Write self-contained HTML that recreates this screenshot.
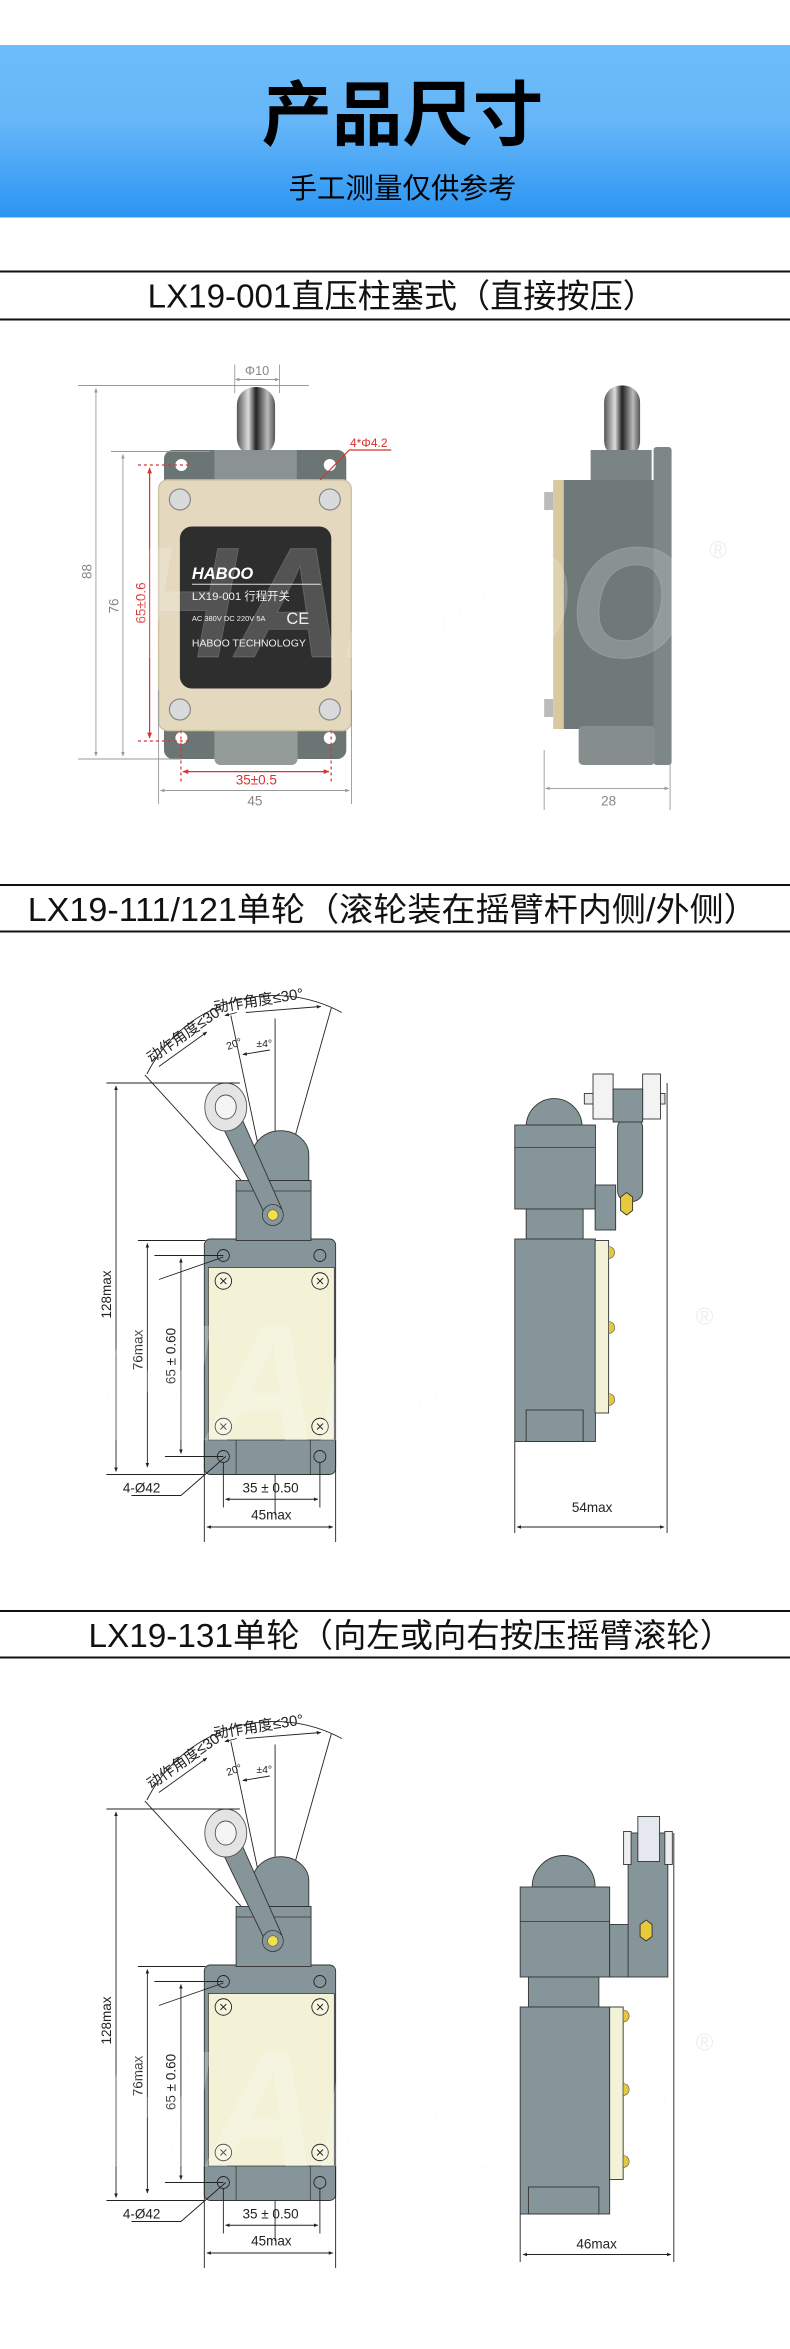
<!DOCTYPE html>
<html><head><meta charset="utf-8">
<style>
html,body{margin:0;padding:0;background:#fff;}
svg{display:block;}
text{font-family:"Liberation Sans","Noto Sans CJK SC",sans-serif;}
</style></head>
<body>
<svg width="790" height="2349" viewBox="0 0 527 1566" preserveAspectRatio="none" xmlns="http://www.w3.org/2000/svg">
<defs>
<linearGradient id="hg" x1="0" y1="0" x2="0" y2="1">
<stop offset="0" stop-color="#6cbdfa"/><stop offset="0.45" stop-color="#66b6f8"/><stop offset="1" stop-color="#2a95f2"/>
</linearGradient>
<marker id="ag" viewBox="0 0 10 10" refX="9" refY="5" markerWidth="5" markerHeight="5" orient="auto-start-reverse"><path d="M0,1 L10,5 L0,9 z" fill="#999"/></marker>
<marker id="ak" viewBox="0 0 10 10" refX="9" refY="5" markerWidth="5" markerHeight="5" orient="auto-start-reverse"><path d="M0,1 L10,5 L0,9 z" fill="#222"/></marker>
<marker id="ar" viewBox="0 0 10 10" refX="9" refY="5" markerWidth="5" markerHeight="5" orient="auto-start-reverse"><path d="M0,1 L10,5 L0,9 z" fill="#d9332e"/></marker>
<linearGradient id="pl" x1="0" y1="0" x2="1" y2="0">
<stop offset="0" stop-color="#555"/><stop offset="0.3" stop-color="#ddd"/><stop offset="0.5" stop-color="#222"/><stop offset="0.8" stop-color="#bbb"/><stop offset="1" stop-color="#555"/>
</linearGradient>
</defs>

<!-- header -->
<rect x="0" y="30" width="527" height="115" fill="url(#hg)"/>
<text x="268.5" y="93" font-size="47" font-weight="bold" text-anchor="middle" fill="#000">产品尺寸</text>
<text x="268.5" y="132" font-size="19" text-anchor="middle" fill="#000">手工测量仅供参考</text>

<!-- section titles -->
<g stroke="#111" stroke-width="1.3">
<line x1="0" y1="181" x2="527" y2="181"/><line x1="0" y1="213" x2="527" y2="213"/>
<line x1="0" y1="590" x2="527" y2="590"/><line x1="0" y1="621" x2="527" y2="621"/>
<line x1="0" y1="1074" x2="527" y2="1074"/><line x1="0" y1="1105" x2="527" y2="1105"/>
</g>
<text x="268" y="205" font-size="22" text-anchor="middle" fill="#111" textLength="339" lengthAdjust="spacingAndGlyphs">LX19-001直压柱塞式（直接按压）</text>
<text x="262" y="614" font-size="22" text-anchor="middle" fill="#111" textLength="487" lengthAdjust="spacingAndGlyphs">LX19-111/121单轮（滚轮装在摇臂杆内侧/外侧）</text>
<text x="274" y="1098" font-size="22" text-anchor="middle" fill="#111" textLength="430" lengthAdjust="spacingAndGlyphs">LX19-131单轮（向左或向右按压摇臂滚轮）</text>

<!-- ===== SECTION 1 ===== -->
<rect x="158" y="258" width="25.5" height="46" rx="12" fill="url(#pl)"/>
<rect x="109.4" y="300" width="121.6" height="206" rx="6" fill="#6b7674"/>
<rect x="143" y="300" width="55" height="22" fill="#8a9391"/>
<rect x="143" y="484" width="55.5" height="26" rx="4" fill="#949c9a"/>
<rect x="105.8" y="320" width="128.5" height="167" rx="6" fill="#e4d9bf" stroke="#cfc3a6"/>
<rect x="120" y="351" width="101" height="108" rx="8" fill="#2e2e2e"/>
<g fill="#d8dadb" stroke="#888" stroke-width="0.8">
<circle cx="120" cy="333" r="7"/><circle cx="220" cy="333" r="7"/><circle cx="120" cy="473" r="7"/><circle cx="220" cy="473" r="7"/>
</g>
<g fill="#fff"><circle cx="121" cy="310" r="4"/><circle cx="220" cy="310" r="4"/><circle cx="121" cy="492" r="4"/><circle cx="220" cy="492" r="4"/></g>
<text x="128" y="386" font-size="11" font-style="italic" font-weight="bold" fill="#fff">HABOO</text>
<line x1="128" y1="389.5" x2="214" y2="389.5" stroke="#ddd" stroke-width="0.7"/>
<text x="128" y="400" font-size="7.6" fill="#eee">LX19-001  行程开关</text>
<text x="128" y="414" font-size="5" fill="#eee">AC 380V DC 220V 5A</text>
<text x="191" y="416" font-size="11" fill="#eee">CE</text>
<text x="128" y="431" font-size="7" fill="#eee">HABOO TECHNOLOGY</text>
<g stroke="#999" stroke-width="0.6" fill="none">
<line x1="52" y1="257" x2="206" y2="257"/><line x1="52" y1="506" x2="121" y2="506"/>
<line x1="64" y1="259" x2="64" y2="504" marker-start="url(#ag)" marker-end="url(#ag)"/>
<line x1="74" y1="301" x2="140" y2="301"/>
<line x1="82" y1="303" x2="82" y2="504" marker-start="url(#ag)" marker-end="url(#ag)"/>
<line x1="156.6" y1="243" x2="156.6" y2="262"/><line x1="186.5" y1="243" x2="186.5" y2="262"/>
<line x1="157" y1="253" x2="186" y2="253" marker-start="url(#ag)" marker-end="url(#ag)"/>
<line x1="105.8" y1="460" x2="105.8" y2="536"/><line x1="234.5" y1="460" x2="234.5" y2="536"/>
<line x1="107" y1="527" x2="233" y2="527" marker-start="url(#ag)" marker-end="url(#ag)"/>
<line x1="363" y1="500" x2="363" y2="540"/><line x1="447" y1="300" x2="447" y2="540"/>
<line x1="364" y1="525.6" x2="446" y2="525.6" marker-start="url(#ag)" marker-end="url(#ag)"/>
</g>
<text transform="translate(61,381) rotate(-90)" font-size="9" fill="#888" text-anchor="middle">88</text>
<text transform="translate(79,404) rotate(-90)" font-size="9" fill="#888" text-anchor="middle">76</text>
<text x="171.5" y="250" font-size="8.5" fill="#888" text-anchor="middle">Φ10</text>
<text x="170" y="537" font-size="9" fill="#888" text-anchor="middle">45</text>
<text x="406" y="537" font-size="9" fill="#888" text-anchor="middle">28</text>
<g stroke="#d9332e" stroke-width="0.8" fill="none">
<line x1="92" y1="310" x2="128" y2="310" stroke-dasharray="2,2"/><line x1="92" y1="494" x2="128" y2="494" stroke-dasharray="2,2"/>
<line x1="99.8" y1="312" x2="99.8" y2="492" marker-start="url(#ar)" marker-end="url(#ar)"/>
<line x1="120.7" y1="487" x2="120.7" y2="522" stroke-dasharray="2,2"/><line x1="220.9" y1="487" x2="220.9" y2="522" stroke-dasharray="2,2"/>
<line x1="122" y1="514.4" x2="219.5" y2="514.4" marker-start="url(#ar)" marker-end="url(#ar)"/>
<polyline points="261,300 233,300 213.5,320"/>
</g>
<text transform="translate(97,402) rotate(-90)" font-size="9" fill="#d9332e" text-anchor="middle">65±0.6</text>
<text x="171" y="523" font-size="9" fill="#d9332e" text-anchor="middle">35±0.5</text>
<text x="246" y="298" font-size="8" fill="#d9332e" text-anchor="middle">4*Φ4.2</text>
<rect x="403" y="257" width="24" height="48" rx="11" fill="url(#pl)"/>
<rect x="394" y="300" width="40.7" height="22" fill="#7a8482"/>
<rect x="376" y="320" width="62" height="166" fill="#6f7a78"/>
<rect x="436" y="298" width="12" height="212" rx="2" fill="#7d8785"/>
<rect x="386" y="484" width="51" height="26" rx="3" fill="#858e8c"/>
<rect x="369" y="320" width="7" height="166" fill="#d8c9a3"/>
<rect x="363" y="328" width="6" height="12" fill="#bbb"/><rect x="363" y="466" width="6" height="12" fill="#bbb"/>
<text x="85" y="438" font-size="105" font-style="italic" font-weight="bold" fill="#fff" fill-opacity="0.18" stroke="#eee" stroke-opacity="0.2" stroke-width="0.6" textLength="373" lengthAdjust="spacingAndGlyphs">HABOO</text>
<text x="479" y="372" font-size="16" fill="#ddd" fill-opacity="0.5" text-anchor="middle">®</text>

<!-- ===== SECTION 2 & 3 FRONT (shared) ===== -->
<g id="front">
<g stroke="#222" stroke-width="0.6" fill="none">
<path d="M98,716 A95,95 0 0 1 228,675" />
<line x1="182" y1="810" x2="96.6" y2="716.6"/>
<line x1="183.5" y1="679" x2="183.5" y2="1010"/>
<line x1="182" y1="810" x2="154" y2="677"/>
<line x1="182" y1="810" x2="221" y2="672"/>
<path d="M162,703 L180,700" marker-start="url(#ak)"/>
<line x1="106" y1="711" x2="138" y2="688" marker-end="url(#ak)"/>
<line x1="150" y1="677" x2="158" y2="675" marker-start="url(#ak)"/>
<line x1="164" y1="675" x2="214" y2="671" marker-end="url(#ak)"/>
</g>
<text transform="translate(101,709) rotate(-35)" font-size="10" fill="#222">动作角度≤30°</text>
<text transform="translate(143,675) rotate(-9)" font-size="10" fill="#222">动作角度≤30°</text>
<text transform="translate(152,700) rotate(-20)" font-size="7" fill="#222">20°</text>
<text x="171" y="698" font-size="7" fill="#222">±4°</text>
<rect x="136.3" y="826" width="87.6" height="157" rx="4" fill="#86959a" stroke="#333" stroke-width="0.6"/>
<rect x="157.5" y="787" width="50" height="40" fill="#86959a" stroke="#333" stroke-width="0.6"/>
<path d="M168.5,787 L168.5,770 A18.5,16 0 0 1 206,770 L206,787 z" fill="#86959a" stroke="#333" stroke-width="0.6"/>
<line x1="157.5" y1="794" x2="207.5" y2="794" stroke="#333" stroke-width="0.5"/>
<rect x="139" y="845" width="84" height="115" fill="#f3f2d6" stroke="#333" stroke-width="0.5"/>
<line x1="157.5" y1="960" x2="157.5" y2="983" stroke="#333" stroke-width="0.5"/>
<line x1="207" y1="960" x2="207" y2="983" stroke="#333" stroke-width="0.5"/>
<path d="M145,744 L157,736 L188,806 L178,812 z" fill="#86959a" stroke="#333" stroke-width="0.6"/>
<ellipse cx="150.6" cy="738" rx="14" ry="16" fill="#e4e4e4" stroke="#555" stroke-width="0.6"/>
<ellipse cx="150.6" cy="738" rx="7" ry="8" fill="#f5f5f5" stroke="#555" stroke-width="0.6"/>
<circle cx="182" cy="810" r="7" fill="#86959a" stroke="#333" stroke-width="0.5"/>
<circle cx="182" cy="810" r="3.5" fill="#f2e04a" stroke="#555" stroke-width="0.4"/>
<g fill="none" stroke="#222" stroke-width="0.6">
<circle cx="149" cy="837" r="4"/><circle cx="213.4" cy="837" r="4"/><circle cx="149" cy="971" r="4"/><circle cx="213.4" cy="971" r="4"/>
<circle cx="149" cy="854" r="5.5" fill="#f7f6e0"/><circle cx="213.5" cy="854" r="5.5" fill="#f7f6e0"/>
<circle cx="149" cy="951" r="5.5" fill="#f7f6e0"/><circle cx="213.5" cy="951" r="5.5" fill="#f7f6e0"/>
<path d="M147,852 l4,4 M151,852 l-4,4 M211.5,852 l4,4 M215.5,852 l-4,4 M147,949 l4,4 M151,949 l-4,4 M211.5,949 l4,4 M215.5,949 l-4,4"/>
</g>
<g stroke="#222" stroke-width="0.6" fill="none">
<line x1="71" y1="722" x2="160" y2="722"/>
<line x1="71" y1="983" x2="137" y2="983"/>
<line x1="77.4" y1="724" x2="77.4" y2="981" marker-start="url(#ak)" marker-end="url(#ak)"/>
<line x1="92" y1="827" x2="137" y2="827"/>
<line x1="98.3" y1="829" x2="98.3" y2="978" marker-start="url(#ak)" marker-end="url(#ak)"/>
<line x1="103" y1="837" x2="149" y2="837"/>
<line x1="110" y1="971" x2="149" y2="971"/>
<line x1="120.7" y1="839" x2="120.7" y2="969" marker-start="url(#ak)" marker-end="url(#ak)"/>
<line x1="106" y1="853" x2="149" y2="838"/>
<polyline points="87.7,997 120.7,997 150.6,971"/>
<line x1="149" y1="975" x2="149" y2="1005"/><line x1="213.4" y1="975" x2="213.4" y2="1005"/>
<line x1="150.5" y1="999.5" x2="212" y2="999.5" marker-start="url(#ak)" marker-end="url(#ak)"/>
<line x1="136.3" y1="960" x2="136.3" y2="1028"/><line x1="223.9" y1="960" x2="223.9" y2="1028"/>
<line x1="138" y1="1018" x2="222" y2="1018" marker-start="url(#ak)" marker-end="url(#ak)"/>
</g>
<text transform="translate(74,863) rotate(-90)" font-size="9" fill="#222" text-anchor="middle">128max</text>
<text transform="translate(95,900) rotate(-90)" font-size="9" fill="#222" text-anchor="middle">76max</text>
<text transform="translate(117,904) rotate(-90)" font-size="9" fill="#222" text-anchor="middle">65 ± 0.60</text>
<text x="82" y="995" font-size="9" fill="#222">4-Ø42</text>
<text x="180.5" y="995" font-size="9" fill="#222" text-anchor="middle">35 ± 0.50</text>
<text x="181" y="1013" font-size="9" fill="#222" text-anchor="middle">45max</text>
<text x="65" y="960" font-size="110" font-style="italic" font-weight="bold" fill="#fff" fill-opacity="0.22" stroke="#eee" stroke-opacity="0.2" stroke-width="0.6" textLength="380" lengthAdjust="spacingAndGlyphs">HABOO</text>
<text x="470" y="883" font-size="16" fill="#ddd" fill-opacity="0.5" text-anchor="middle">®</text>
</g>
<use href="#front" transform="translate(0,484)"/>

<!-- side view section 2 -->
<g stroke="#333" stroke-width="0.6">
<path d="M351,750 A18.7,19 0 0 1 388.3,750 z" fill="#86959a"/>
<rect x="343.4" y="750" width="53.8" height="56" fill="#86959a"/>
<rect x="351" y="806" width="38" height="21" fill="#86959a"/>
<rect x="343.4" y="826" width="53.8" height="135" fill="#86959a"/>
<rect x="351" y="940" width="38" height="21" fill="#86959a"/>
<line x1="343.4" y1="765" x2="397.2" y2="765" stroke-width="0.5"/>
<rect x="397" y="790" width="13.7" height="30" fill="#86959a"/>
<rect x="412" y="745" width="16.7" height="56" rx="7" fill="#86959a"/>
<rect x="389.8" y="729" width="53.8" height="7" fill="#e8e8e8"/>
<rect x="395.6" y="716" width="13.4" height="30" fill="#f3f3f3"/>
<rect x="428.7" y="716" width="11.9" height="30" fill="#f3f3f3"/>
<rect x="409" y="726" width="19.7" height="22" fill="#86959a"/>
<polygon points="414,798 418,795 422,798 422,807 418,810 414,807" fill="#e8c93a"/>
<rect x="397" y="827" width="9" height="115" fill="#f3f2d6"/>
</g>
<g fill="#e3c840" stroke="#555" stroke-width="0.4">
<path d="M406,831 a4,4 0 0 1 0,8 z"/><path d="M406,881 a4,4 0 0 1 0,8 z"/><path d="M406,929 a4,4 0 0 1 0,8 z"/>
</g>
<g stroke="#222" stroke-width="0.6" fill="none">
<line x1="343.4" y1="961" x2="343.4" y2="1022"/><line x1="445" y1="722" x2="445" y2="1022"/>
<line x1="345" y1="1018" x2="443" y2="1018" marker-start="url(#ak)" marker-end="url(#ak)"/>
</g>
<text x="395" y="1008" font-size="9" fill="#222" text-anchor="middle">54max</text>

<!-- side view section 3 -->
<g stroke="#333" stroke-width="0.6">
<path d="M355,1258 A21,21 0 0 1 397,1258 z" fill="#86959a"/>
<rect x="347" y="1258" width="59.7" height="60" fill="#86959a"/>
<rect x="352.5" y="1318" width="47" height="20" fill="#86959a"/>
<rect x="347" y="1338" width="59.7" height="138" fill="#86959a"/>
<rect x="352.5" y="1458" width="47" height="18" fill="#86959a"/>
<line x1="347" y1="1281" x2="406.7" y2="1281" stroke-width="0.5"/>
<rect x="406.7" y="1283" width="12.5" height="35" fill="#86959a"/>
<rect x="419" y="1222" width="26.5" height="96" fill="#86959a"/>
<rect x="425.5" y="1211" width="14.5" height="30" fill="#e6e8f0"/>
<rect x="416" y="1221" width="5" height="22" fill="#eee"/><rect x="443.5" y="1221" width="5" height="22" fill="#eee"/>
<polygon points="427,1283 431,1280 435,1283 435,1291 431,1294 427,1291" fill="#e8c93a"/>
<rect x="406.7" y="1338" width="9" height="115" fill="#f3f2d6"/>
</g>
<g fill="#e3c840" stroke="#555" stroke-width="0.4">
<path d="M415.7,1340 a4,4 0 0 1 0,8 z"/><path d="M415.7,1389 a4,4 0 0 1 0,8 z"/><path d="M415.7,1437 a4,4 0 0 1 0,8 z"/>
</g>
<g stroke="#222" stroke-width="0.6" fill="none">
<line x1="347" y1="1476" x2="347" y2="1508"/><line x1="449.5" y1="1222" x2="449.5" y2="1508"/>
<line x1="349" y1="1503" x2="447.5" y2="1503" marker-start="url(#ak)" marker-end="url(#ak)"/>
</g>
<text x="398" y="1499" font-size="9" fill="#222" text-anchor="middle">46max</text>
</svg>
</body></html>
